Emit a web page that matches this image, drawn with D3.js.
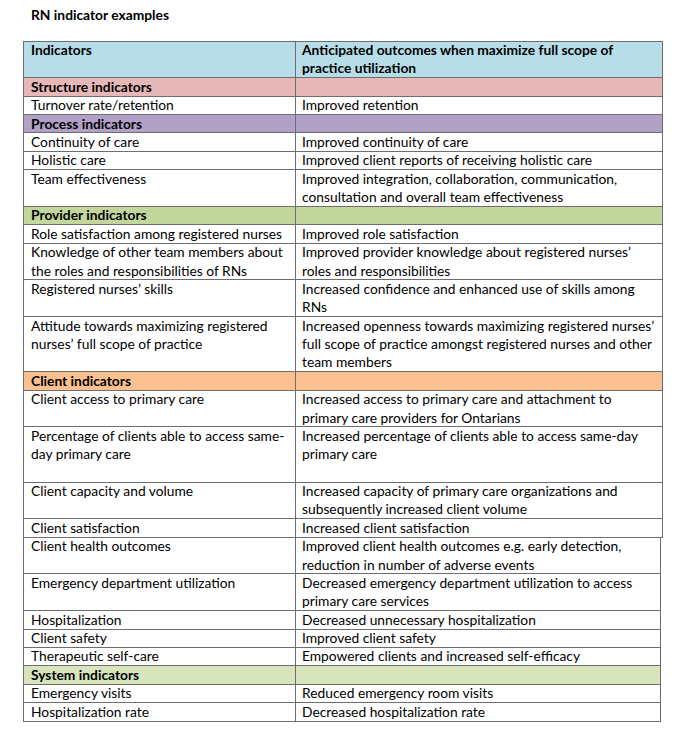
<!DOCTYPE html>
<html>
<head>
<meta charset="utf-8">
<script src="https://cdn.jsdelivr.net/npm/d3@7"></script>
<style>
  html, body { margin: 0; padding: 0; background: #fff; }
  svg { display: block; }
</style>
</head>
<body>
<svg id="chart" width="683" height="737"></svg>
<script>
const title = "RN indicator examples";
const headerLeft = ["Indicators"];
const headerRight = ["Anticipated outcomes when maximize full scope of", "practice utilization"];
const sectionNames = ["Structure indicators", "Process indicators", "Provider indicators", "Client indicators", "System indicators"];

const structureRows = [
  [["Turnover rate/retention"], ["Improved retention"]]
];
const processRows = [
  [["Continuity of care"], ["Improved continuity of care"]],
  [["Holistic care"], ["Improved client reports of receiving holistic care"]],
  [["Team effectiveness"], ["Improved integration, collaboration, communication,", "consultation and overall team effectiveness"]]
];
const providerRows = [
  [["Role satisfaction among registered nurses"], ["Improved role satisfaction"]],
  [["Knowledge of other team members about", "the roles and responsibilities of RNs"], ["Improved provider knowledge about registered nurses\u2019", "roles and responsibilities"]],
  [["Registered nurses\u2019 skills"], ["Increased confidence and enhanced use of skills among", "RNs"]],
  [["Attitude towards maximizing registered", "nurses\u2019 full scope of practice"], ["Increased openness towards maximizing registered nurses\u2019", "full scope of practice amongst registered nurses and other", "team members"]]
];
const clientRows = [
  [["Client access to primary care"], ["Increased access to primary care and attachment to", "primary care providers for Ontarians"]],
  [["Percentage of clients able to access same-", "day primary care", ""], ["Increased percentage of clients able to access same-day", "primary care"]],
  [["Client capacity and volume"], ["Increased capacity of primary care organizations and", "subsequently increased client volume"]],
  [["Client satisfaction"], ["Increased client satisfaction"]],
  [["Client health outcomes"], ["Improved client health outcomes e.g. early detection,", "reduction in number of adverse events"]],
  [["Emergency department utilization"], ["Decreased emergency department utilization to access", "primary care services"]],
  [["Hospitalization"], ["Decreased unnecessary hospitalization"]],
  [["Client safety"], ["Improved client safety"]],
  [["Therapeutic self-care"], ["Empowered clients and increased self-efficacy"]]
];
const systemRows = [
  [["Emergency visits"], ["Reduced emergency room visits"]],
  [["Hospitalization rate"], ["Decreased hospitalization rate"]]
];
const sectionRows = [structureRows, processRows, providerRows, clientRows, systemRows];

// styles
const headerColor = "#b7dde8";
const sectionColors = ["#e6b8b7", "#b2a1c7", "#c3d69b", "#fac090", "#d7e4bc"];
const fontFamily = "Lato, 'Open Sans', sans-serif";
const fontSize = 13.8;
const borderColor = "#6e6e6e";

// build row list
const rows = [];
rows.push({ type: "header", left: headerLeft, right: headerRight, fill: headerColor, bold: true });
sectionNames.forEach((name, i) => {
  rows.push({ type: "section", left: [name], right: [], fill: sectionColors[i], bold: true });
  sectionRows[i].forEach(r => rows.push({ type: "row", left: r[0], right: r[1], fill: "#fff", bold: false }));
});
let acc = 0;
rows.forEach(r => {
  r.lines = Math.max(r.left.length, r.right.length, 1);
  r.start = acc;
  acc += r.lines;
  r.end = acc;
});
const totalLines = acc;

const svg = d3.select("#chart");
const tableTop = 41, tableBottom = 721;
const y = d3.scaleLinear().domain([0, totalLines]).range([tableTop, tableBottom]);
const x = d3.scaleLinear().domain([0, 1, 2]).range([23, 295, 662]);
const lineH = (tableBottom - tableTop) / totalLines;

svg.append("text")
  .attr("x", 31).attr("y", 20)
  .attr("font-family", fontFamily).attr("font-size", fontSize).attr("font-weight", "bold")
  .attr("fill", "#000")
  .text(title);

const firstNarrow = rows.findIndex(r => r.left[0] === "Client health outcomes");
const rightEdge = (i) => i >= firstNarrow ? x(2) - 2 : x(2);

const g = svg.append("g");
const rowG = g.selectAll("g.row").data(rows).join("g").attr("class", "row");

rowG.append("rect")
  .attr("x", x(0))
  .attr("y", d => y(d.start))
  .attr("width", (d, i) => rightEdge(i) - x(0))
  .attr("height", d => y(d.end) - y(d.start))
  .attr("fill", d => d.fill)
  .attr("stroke", borderColor)
  .attr("stroke-width", 1)
  .attr("shape-rendering", "crispEdges");

rowG.append("line")
  .attr("x1", x(1)).attr("x2", x(1))
  .attr("y1", d => y(d.start)).attr("y2", d => y(d.end))
  .attr("stroke", borderColor)
  .attr("shape-rendering", "crispEdges");

function addText(sel, key, xpos) {
  sel.each(function(d) {
    const t = d3.select(this).append("text")
      .attr("font-family", fontFamily)
      .attr("font-size", fontSize)
      .attr("font-weight", d.bold ? "bold" : "normal")
      .attr("fill", "#000");
    d[key].forEach((line, k) => {
      t.append("tspan")
        .attr("x", xpos)
        .attr("y", y(d.start) + 14 + k * lineH)
        .text(line);
    });
  });
}
addText(rowG, "left", x(0) + 8);
addText(rowG, "right", x(1) + 7);
</script>
</body>
</html>
